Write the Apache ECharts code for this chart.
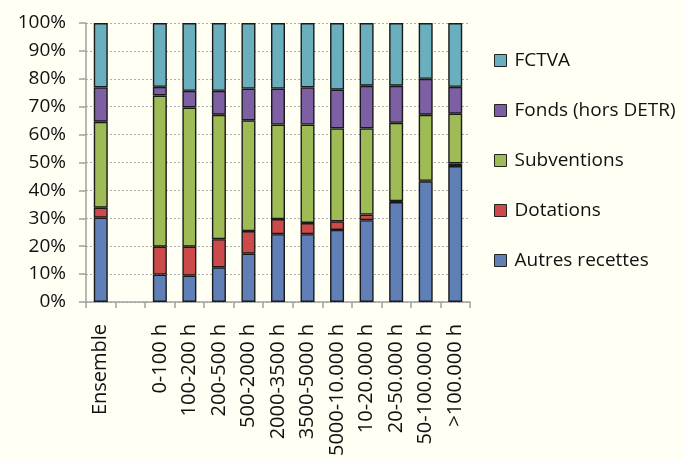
<!DOCTYPE html>
<html>
<head>
<meta charset="utf-8">
<script src="https://cdn.jsdelivr.net/npm/echarts@6/dist/echarts.min.js"></script>
<style>
html,body{margin:0;padding:0;background:#fffff4;}
#main{width:683px;height:459px;}
</style>
</head>
<body>
<div id="main"></div>
<script>
// categories (the empty one is the gap after "Ensemble")
var categories = ['Ensemble', '', '0-100 h', '100-200 h', '200-500 h', '500-2000 h', '2000-3500 h',
	'3500-5000 h', '5000-10.000 h', '10-20.000 h', '20-50.000 h', '50-100.000 h', '>100.000 h'];
var autres = [30.2, null, 9.8, 9.4, 12.4, 17.3, 24.3, 24.3, 25.8, 29.3, 35.8, 43.2, 48.7];
var dotations = [3.6, null, 10.0, 10.4, 10.1, 8.1, 5.4, 4.0, 3.1, 2.0, 0.3, 0.2, 1.0];
var subventions = [30.8, null, 54.2, 49.9, 44.6, 39.7, 33.9, 35.3, 33.3, 30.9, 28.1, 23.7, 17.8];
var fonds = [12.3, null, 3.1, 6.0, 8.6, 11.4, 12.9, 13.3, 13.9, 15.3, 13.3, 12.9, 9.6];
var fctva = [23.1, null, 22.9, 24.3, 24.3, 23.5, 23.5, 23.1, 23.9, 22.5, 22.5, 20.0, 22.9];

var font = 'Open Sans';
var chart = echarts.init(document.getElementById('main'));

function serie(name, data, color){
	return {
		name: name,
		type: 'bar',
		stack: 'total',
		data: data,
		barWidth: 14,
		itemStyle: {color: color, borderColor: '#1a1a1a', borderWidth: 1.4}
	};
}

chart.setOption({
	backgroundColor: '#fffff4',
	animation: false,
	grid: {left: 86, right: 213, top: 23, bottom: 157},
	legend: {
		orient: 'vertical',
		left: 489,
		top: 46,
		itemGap: 31,
		itemWidth: 12,
		itemHeight: 12,
		icon: 'rect',
		data: ['FCTVA', 'Fonds (hors DETR)', 'Subventions', 'Dotations', 'Autres recettes'],
		itemStyle: {borderColor: '#222', borderWidth: 1},
		textStyle: {fontFamily: font, fontSize: 19, color: '#111', padding: [0, 0, 0, 3]}
	},
	xAxis: {
		type: 'category',
		data: categories,
		axisLine: {lineStyle: {color: '#a0a0a0', width: 1.5}},
		axisTick: {show: true, length: 6, lineStyle: {color: '#a0a0a0', width: 1.5}},
		axisLabel: {rotate: 90, interval: 0, fontFamily: font, fontSize: 20, color: '#111', margin: 22}
	},
	yAxis: {
		type: 'value',
		min: 0,
		max: 100,
		interval: 10,
		axisLine: {show: true, lineStyle: {color: '#a0a0a0', width: 1.5}},
		axisTick: {show: true, inside: false, length: 7, lineStyle: {color: '#a0a0a0', width: 1.5}},
		splitLine: {lineStyle: {color: '#b0b0b0', type: [2, 2], width: 1}},
		axisLabel: {formatter: '{value}%', fontFamily: font, fontSize: 19, color: '#111', margin: 20}
	},
	series: [
		serie('Autres recettes', autres, '#5f7fb6'),
		serie('Dotations', dotations, '#cc4a4a'),
		serie('Subventions', subventions, '#9ebb55'),
		serie('Fonds (hors DETR)', fonds, '#7d5fa3'),
		serie('FCTVA', fctva, '#6aafbe')
	]
});
</script>
</body>
</html>
